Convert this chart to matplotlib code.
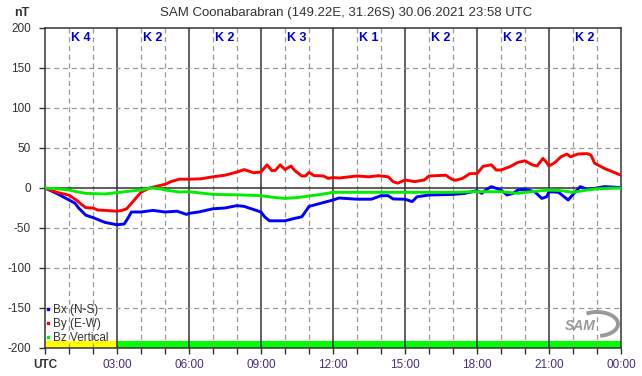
import matplotlib
matplotlib.use("Agg")
import matplotlib.pyplot as plt
from matplotlib.lines import Line2D
from matplotlib.patches import Arc

plt.rcParams['font.family'] = ['Liberation Sans', 'DejaVu Sans']

# Bx (N-S)
bx_h = [0, 0.5, 1, 1.25, 1.4, 1.7, 2, 2.25, 2.5, 3, 3.3, 3.45, 3.6, 4, 4.5, 5, 5.5, 5.9,
        6, 6.4, 7, 7.5, 8, 8.3, 8.6, 9, 9.15, 9.35, 10, 10.4, 10.7, 10.9, 11, 11.5,
        12, 12.25, 13, 13.6, 14, 14.3, 14.5, 15, 15.3, 15.5, 16, 17, 17.5, 18, 18.2,
        18.4, 18.6, 19, 19.25, 19.5, 19.7, 20, 20.4, 20.7, 20.9, 21, 21.4, 21.8, 22,
        22.3, 22.6, 23, 23.3, 24]
bx_v = [0, -7, -15, -19, -25, -34, -37, -40, -43, -46, -45, -38, -30, -30, -28, -30, -29, -33,
        -31.7, -30, -26, -25, -22, -23, -26, -30, -36, -41, -41, -38, -36, -27.5, -23, -19,
        -15, -12.5, -14, -14, -9.6, -9.6, -13.7, -14, -17, -11, -8.75, -8, -6.7, -3.3, -6.7,
        -1.7, 1.7, -2.5, -8.75, -6.7, -2.5, -1.7, -4.6, -13, -11, -4.6, -5.4, -15, -8,
        1.7, -1.7, 0, 1.7, 0.6]

# By (E-W)
by_h = [0, 0.5, 1, 1.3, 1.5, 1.7, 2, 2.2, 2.5, 3, 3.2, 3.4, 3.55, 3.75, 4, 4.35, 4.6, 5,
        5.25, 5.6, 6, 6.5, 7, 7.5, 8, 8.3, 8.7, 9, 9.25, 9.45, 9.6, 9.8, 10, 10.25, 10.4,
        10.7, 10.85, 11, 11.2, 11.6, 11.8, 12, 12.25, 13, 13.5, 13.9, 14.3, 14.5, 14.7, 15,
        15.4, 15.8, 16, 16.7, 16.95, 17.1, 17.4, 17.7, 18, 18.25, 18.6, 18.8, 19, 19.4,
        19.7, 20, 20.3, 20.5, 20.75, 20.9, 21, 21.25, 21.5, 21.75, 21.9, 22.2, 22.6, 22.75,
        22.9, 23.3, 23.7, 24]
by_v = [0, -5.4, -9, -15, -20, -24.6, -25, -27.5, -28, -29, -28, -26, -21, -14, -5.4, 0, 1.7, 4.6,
        8, 11, 11, 11.5, 14, 16, 20, 23, 19, 20, 29, 21.7, 22, 29, 23, 27.5, 22,
        15, 15, 19.6, 15.6, 15, 12, 13, 12.5, 15, 14, 15.4, 14, 8, 6, 10,
        8, 10, 15, 16, 11, 9.6, 12, 18, 18, 27, 29, 22.5, 22.5, 27,
        32, 34, 29, 27.5, 37, 32, 27.5, 32, 39, 42.5, 39, 42.5, 43, 41,
        31, 24.6, 19.6, 16]

# Bz Vertical
bz_h = [0, 0.5, 1, 1.3, 1.7, 2.5, 3, 3.5, 4, 4.4, 4.8, 5, 5.6, 6, 7, 8, 9, 9.6, 10, 10.5,
        11, 11.5, 12, 13, 14, 15, 16, 17, 18, 19, 19.7, 20, 21, 21.5, 22, 22.5, 23, 24]
bz_v = [0, -1, -2.5, -4.6, -6.7, -7.5, -5.8, -4, -2.5, 0, -1, -2.5, -5, -4.6, -8, -8.5, -9.6, -12, -13, -12,
        -10, -8, -5.4, -5.4, -5.4, -5.4, -5.4, -5.4, -4.6, -4.6, -6.7, -5.4, -2.5, -3.3, -5.4, -3, -1, 0]

# K index per 3 hour block
k_values = [4, 2, 2, 3, 1, 2, 2, 2]
x_ticks = [0, 3, 6, 9, 12, 15, 18, 21, 24]
x_labels = ["UTC", "03:00", "06:00", "09:00", "12:00", "15:00", "18:00", "21:00", "00:00"]
y_ticks = [-200, -150, -100, -50, 0, 50, 100, 150, 200]

fig = plt.figure(figsize=(6.42, 3.76), dpi=100)
ax = fig.add_axes([45 / 642, 28 / 376, 576 / 642, 320 / 376])
ax.set_xlim(0, 24)
ax.set_ylim(-200, 200)

# grid
for h in range(1, 24):
    if h % 3 == 0:
        ax.axvline(h, color="#333333", lw=1.1, zorder=1)
    else:
        ax.axvline(h, color="#999999", lw=0.9, ls=(0, (4, 3)), zorder=1)
for v in y_ticks[1:-1]:
    if v == 0:
        ax.axhline(v, color="#333333", lw=1.1, zorder=1)
    else:
        ax.axhline(v, color="#999999", lw=0.9, ls=(0, (4, 3)), zorder=1)

# K band + labels
for i, k in enumerate(k_values):
    col = "#ffff00" if k >= 4 else "#00ff00"
    ax.bar(i * 3, 9, width=3, bottom=-200, align="edge", color=col, lw=0, zorder=0.5)
    ax.text(i * 3 + 1.5, 188, "K %d" % k, color="#0000dd", fontsize=9, fontweight="bold",
            ha="center", va="center", zorder=5)

ax.plot(bx_h, bx_v, color="#0000ff", lw=2.1, zorder=3)
ax.plot(by_h, by_v, color="#ff0000", lw=2.1, zorder=3)
ax.plot(bz_h, bz_v, color="#00ee00", lw=2.1, zorder=4)

for s in ax.spines.values():
    s.set_color("#333333")
    s.set_linewidth(1.1)

ax.set_xticks(x_ticks)
ax.set_xticklabels(x_labels, color="#4a2f78", fontsize=8.5)
ax.get_xticklabels()[0].set_color("#333333")
ax.get_xticklabels()[0].set_fontweight("bold")
ax.set_xticks(range(25), minor=True)
ax.set_yticks(y_ticks)
ax.set_yticklabels([str(v) for v in y_ticks], color="#333333", fontsize=8.5)
ax.tick_params(axis="both", which="both", direction="out", length=4, color="#333333", width=1)
ax.tick_params(axis="x", pad=4)
ax.tick_params(axis="y", pad=6)

handles = [Line2D([], [], ls="none", marker="s", markersize=2, color=c)
           for c in ["#0000ff", "#ff0000", "#00ee00"]]
leg = ax.legend(handles, ["Bx (N-S)", "By (E-W)", "Bz Vertical"], loc="lower left",
                bbox_to_anchor=(-0.012, -0.005), frameon=False, fontsize=8.5,
                handlelength=0.6, handletextpad=0.15, labelspacing=0.15, borderaxespad=0.1)
for t in leg.get_texts():
    t.set_color("#333333")

# SAM logo in its own small pixel-scaled axes
lax = fig.add_axes([555 / 642, 36 / 376, 67 / 642, 32 / 376])
lax.set_xlim(0, 67)
lax.set_ylim(0, 32)
lax.axis("off")
lax.add_patch(Arc((42, 16), 42, 24, theta1=-75, theta2=135, color="#999999", lw=2.8))
lax.text(25, 14, "SAM", fontsize=10, fontstyle="italic", fontweight="bold", color="#999999",
         ha="center", va="center")

fig.text(346 / 642, 1 - 13 / 376, "SAM Coonabarabran (149.22E, 31.26S) 30.06.2021 23:58 UTC",
         ha="center", va="center", fontsize=9.5, color="#333333")
fig.text(22 / 642, 1 - 13 / 376, "nT", ha="center", va="center", fontsize=9, color="#333333",
         fontweight="bold")

fig.savefig("out.png", dpi=100, facecolor="white")
